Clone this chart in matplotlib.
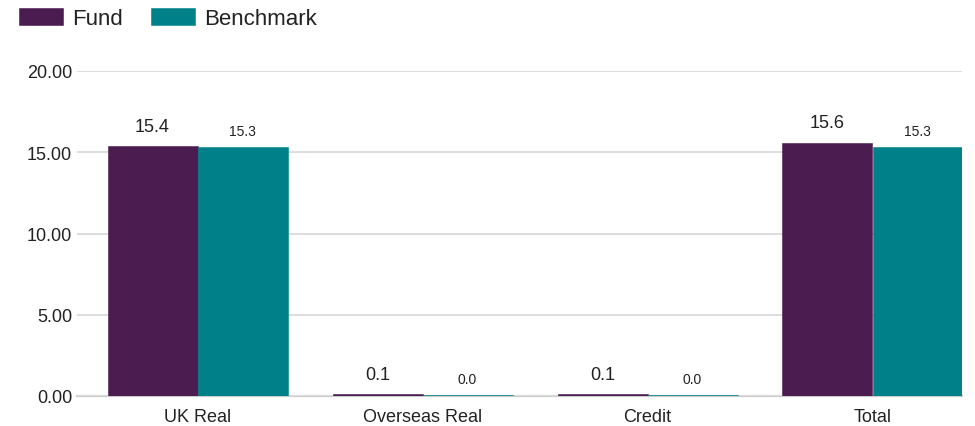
import matplotlib
matplotlib.use("Agg")
import matplotlib.pyplot as plt
import numpy as np

categories = ["UK Real", "Overseas Real", "Credit", "Total"]
fund = [15.4, 0.1, 0.1, 15.6]
benchmark = [15.3, 0.04, 0.04, 15.3]
series_names = ["Fund", "Benchmark"]
y_ticks = [0, 5, 10, 15, 20]

FUND_COLOR = "#4b1c50"
BENCH_COLOR = "#00818a"
TEXT_COLOR = "#222222"

plt.rcParams["font.family"] = ["Liberation Sans", "DejaVu Sans"]

fig = plt.figure(figsize=(9.75, 4.27), dpi=100)
W, H = 975, 427
left, right, top, bottom = 77, 962, 72, 397
ax = fig.add_axes([left / W, (H - bottom) / H, (right - left) / W, (bottom - top) / H])

x = np.arange(len(categories))
bw = 0.4
b1 = ax.bar(x - bw / 2, fund, bw, color=FUND_COLOR, edgecolor=FUND_COLOR, linewidth=0.4,
            label=series_names[0], zorder=5)
b2 = ax.bar(x + bw / 2, benchmark, bw, color=BENCH_COLOR, edgecolor=BENCH_COLOR, linewidth=0.4,
            label=series_names[1], zorder=5)

for rect, v in zip(b1, fund):
    ax.annotate(f"{v:.1f}", (rect.get_x() + rect.get_width() / 2, rect.get_height()),
                xytext=(0, 10.8), textcoords="offset points", ha="center", va="baseline",
                fontsize=13, color=TEXT_COLOR)
for rect, v in zip(b2, benchmark):
    ax.annotate(f"{v:.1f}", (rect.get_x() + rect.get_width() / 2, rect.get_height()),
                xytext=(0, 8.6), textcoords="offset points", ha="center", va="baseline",
                fontsize=10, color=TEXT_COLOR)

ax.set_xlim((left - 197.5) / 225, (right - 197.5) / 225)
ax.set_ylim(0, 20)
ax.set_yticks(y_ticks)
ax.set_yticklabels([f"{t:.2f}" for t in y_ticks])
ax.set_xticks(x)
ax.set_xticklabels(categories)

ax.grid(axis="y", color="#dddddd", linewidth=1.4, zorder=0)
ax.grid(axis="x", visible=False)
for s in ["top", "right", "left"]:
    ax.spines[s].set_visible(False)
ax.spines["bottom"].set_color("#cccccc")
ax.spines["bottom"].set_linewidth(1.6)
ax.spines["bottom"].set_zorder(1)

ax.tick_params(axis="y", length=0, pad=3.6, labelsize=13, labelcolor=TEXT_COLOR)
ax.tick_params(axis="x", length=0, pad=9, labelsize=13, labelcolor=TEXT_COLOR)

fig.legend(handles=[b1, b2], loc="upper left", bbox_to_anchor=(19 / W, 1 - 9 / H),
           frameon=False, fontsize=16, handlelength=2.0, handleheight=0.8,
           handletextpad=0.4, columnspacing=1.25, borderpad=0, borderaxespad=0,
           ncol=2, labelcolor=TEXT_COLOR)

fig.savefig("out.png", dpi=100)
